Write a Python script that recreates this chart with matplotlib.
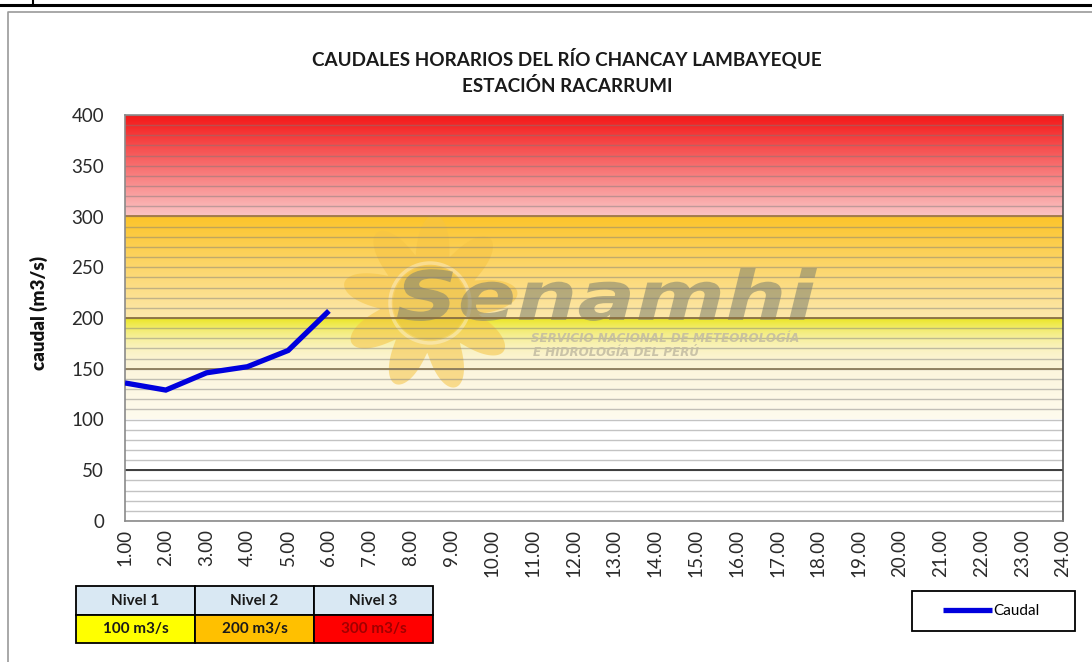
import numpy as np
import matplotlib
matplotlib.use("Agg")
import matplotlib.pyplot as plt
import matplotlib.transforms as mtransforms
from matplotlib.colors import to_rgb
from matplotlib.patches import Rectangle, PathPatch, Polygon, Circle
from matplotlib.lines import Line2D
from matplotlib.textpath import TextPath
from matplotlib.font_manager import FontProperties

plt.rcParams['font.family'] = ['Lato', 'DejaVu Sans']

# data
hours = list(range(1, 25))
hour_labels = [f"{h:.2f}" for h in hours]
caudal_hours = [1, 2, 3, 4, 5, 6]
caudal = [136, 129, 146, 152, 168, 207]

y_ticks = [0, 50, 100, 150, 200, 250, 300, 350, 400]
thresholds = [50, 150, 200, 300]
threshold_colors = ['#303030', '#8b7b5b', '#8b7040', '#a07848']

# background bands: (low, high, colour at low, colour at high)
bands = [(100, 150, '#fefbee', '#fcf5dc'),
         (150, 200, '#fcf4d6', '#ebe624'),
         (200, 300, '#fde8ac', '#fcc42a'),
         (300, 400, '#fbc4c4', '#f41616')]

niveles = ['Nivel 1', 'Nivel 2', 'Nivel 3']
nivel_values = ['100 m3/s', '200 m3/s', '300 m3/s']
nivel_fill = ['#ffff00', '#ffc000', '#ff0000']
nivel_text = ['#1a1a1a', '#1a1a1a', '#a00000']

W, H = 1092, 662
def fx(x): return x / W
def fy(y): return 1 - y / H

fig = plt.figure(figsize=(W / 100, H / 100), dpi=100)
fig.patch.set_facecolor('white')

# page decorations
fig.add_artist(Line2D([0, 1], [fy(5), fy(5)], color='black', lw=2.2, transform=fig.transFigure))
fig.add_artist(Line2D([fx(33), fx(33)], [1, fy(5)], color='black', lw=1.5, transform=fig.transFigure))
fig.add_artist(Line2D([fx(8), fx(8), 1], [0, fy(12), fy(12)], color='#9a9a9a', lw=1.2,
                      transform=fig.transFigure))

ax = fig.add_axes([fx(125), fy(521), fx(1063) - fx(125), fy(115) - fy(521)])
ax.set_xlim(1, 24)
ax.set_ylim(0, 400)

for lo, hi, c0, c1 in bands:
    t = np.linspace(0, 1, 200)[:, None]
    if lo == 150:
        t = t ** 2.2
    grad = (1 - t)[:, :, None] * np.array(to_rgb(c0)) + t[:, :, None] * np.array(to_rgb(c1))
    ax.imshow(grad, extent=(1, 24, lo, hi), origin='lower', aspect='auto',
              interpolation='bilinear', zorder=0.1)

# watermark (sun + text) in pixel coordinates
pix = mtransforms.IdentityTransform()
cx, cy = 430, 303
th = np.linspace(0, 2 * np.pi, 1440)
r = 50 + 38 * np.abs(np.cos(4.5 * (th + 0.12))) ** 1.2
ax.add_patch(Polygon(np.column_stack([cx + r * np.cos(th), H - (cy + r * np.sin(th))]),
                     closed=True, facecolor='#f5c445', edgecolor='none', alpha=0.55,
                     transform=pix, zorder=0.3))
ax.add_patch(Circle((cx, H - cy), 40, facecolor='none', edgecolor='white', lw=2.5,
                    alpha=0.35, transform=pix, zorder=0.31))
ax.add_patch(Circle((cx, H - cy), 37, facecolor='#e0b830', edgecolor='none',
                    alpha=0.25, transform=pix, zorder=0.31))

tp = TextPath((0, 0), "Senamhi", size=1,
              prop=FontProperties(family='DejaVu Sans', weight='bold', style='italic'))
ext = tp.get_extents()
sx = (817 - 397) / ext.width
sy = 52 / ext.y1
tr = mtransforms.Affine2D().translate(-ext.x0, 0).scale(sx, sy).translate(397, H - 320)
ax.add_patch(PathPatch(tr.transform_path(tp), facecolor='#878770', edgecolor='none',
                       alpha=0.6, transform=pix, zorder=0.35))
fig.text(fx(531), fy(338), "SERVICIO NACIONAL DE METEOROLOGÍA", fontsize=8.6,
         style='italic', weight='bold', color='#c2bba2', va='center', ha='left',
         family=['DejaVu Sans'], alpha=0.85, zorder=0.4)
fig.text(fx(533), fy(352), "E HIDROLOGÍA DEL PERÚ", fontsize=8.6,
         style='italic', weight='bold', color='#c2bba2', va='center', ha='left',
         family=['DejaVu Sans'], alpha=0.85, zorder=0.4)

# gridlines every 10
ax.set_yticks(y_ticks)
ax.yaxis.set_minor_locator(matplotlib.ticker.MultipleLocator(10))
ax.set_axisbelow(True)
ax.grid(True, which='both', axis='y', color='#7a7a7a', alpha=0.45, lw=1.0)
for v, c in zip(thresholds, threshold_colors):
    ax.axhline(v, color=c, lw=1.3, zorder=0.7)

line, = ax.plot(caudal_hours, caudal, color='#0000dd', lw=3.8, solid_capstyle='butt',
                solid_joinstyle='miter', label='Caudal', zorder=3)

ax.set_xticks(hours)
ax.set_xticklabels(hour_labels, rotation=90)
ax.tick_params(axis='x', length=0, pad=6, labelsize=13.5, labelcolor='#2a2a2a')
ax.tick_params(axis='y', which='both', length=0, pad=15, labelsize=13.5, labelcolor='#2a2a2a')
ax.set_ylabel('caudal (m3/s)', fontsize=13.5, fontweight='heavy', color='#111111')
ax.yaxis.set_label_coords((48 - 125) / 938, (521 - 313) / 406)

for side in ['left', 'bottom', 'top']:
    ax.spines[side].set_color('#8a8a8a')
    ax.spines[side].set_linewidth(1.2)
ax.spines['right'].set_color('#505050')
ax.spines['right'].set_linewidth(1.2)

fig.text(fx(567), fy(58), 'CAUDALES HORARIOS DEL RÍO CHANCAY LAMBAYEQUE', ha='center',
         va='center', fontsize=13.6, fontweight='bold', color='#1a1a1a')
fig.text(fx(567), fy(86), 'ESTACIÓN RACARRUMI', ha='center', va='center',
         fontsize=13.6, fontweight='bold', color='#1a1a1a')

# level table
col_x = [76, 195, 314, 433]
for i in range(3):
    x0, x1 = col_x[i], col_x[i + 1]
    fig.add_artist(Rectangle((fx(x0), fy(615)), fx(x1) - fx(x0), fy(586) - fy(615),
                             facecolor='#d9e8f3', edgecolor='black', lw=1.3,
                             transform=fig.transFigure))
    fig.add_artist(Rectangle((fx(x0), fy(643)), fx(x1) - fx(x0), fy(615) - fy(643),
                             facecolor=nivel_fill[i], edgecolor='black', lw=1.3,
                             transform=fig.transFigure))
    fig.text(fx((x0 + x1) / 2), fy(601), niveles[i], ha='center', va='center',
             fontsize=11, fontweight='bold', color='#1a1a1a')
    fig.text(fx((x0 + x1) / 2), fy(629), nivel_values[i], ha='center', va='center',
             fontsize=11, fontweight='bold', color=nivel_text[i])

# legend
fig.add_artist(Rectangle((fx(912), fy(631)), fx(1075) - fx(912), fy(591) - fy(631),
                         facecolor='white', edgecolor='black', lw=1.3,
                         transform=fig.transFigure, zorder=4))
leg = fig.legend(handles=[line], labels=['Caudal'], loc='center left',
                 bbox_to_anchor=(fx(943), fy(611)), bbox_transform=fig.transFigure,
                 frameon=False, fontsize=11, handlelength=3.2, handletextpad=0.1,
                 borderpad=0, borderaxespad=0)
leg.set_zorder(5)

fig.savefig('out.png', dpi=100)
